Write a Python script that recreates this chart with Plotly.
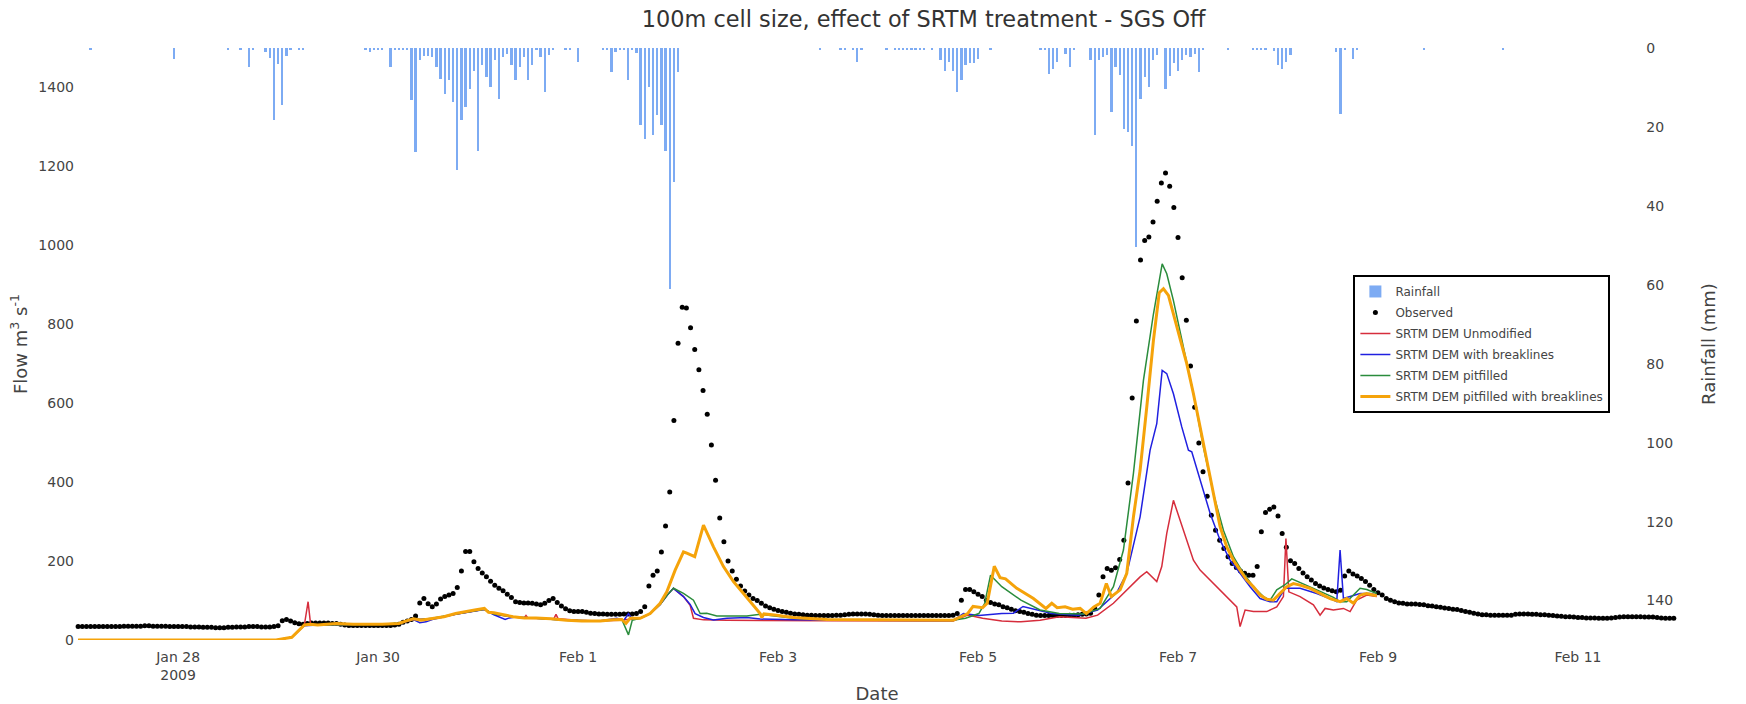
import pandas as pd
import plotly.graph_objects as go

START = pd.Timestamp("2009-01-27 00:00")

# Observed flow (m3/s), hourly from 2009-01-27 00:00, one row per day
observed_flow = [
    34, 34, 34, 34, 34, 34, 34, 34, 34, 34, 34, 35, 35, 35, 35, 35, 36, 36, 35, 35, 35, 35, 34, 34,
    34, 34, 34, 33, 33, 33, 32, 32, 32, 31, 31, 31, 32, 32, 33, 33, 33, 34, 34, 34, 33, 33, 33, 34,
    36, 49, 52, 48, 44, 41, 40, 42, 43, 43, 43, 43, 43, 42, 42, 40, 38, 37, 37, 37, 37, 37, 37, 37,
    37, 37, 37, 37, 38, 40, 45, 48, 52, 61, 94, 105, 92, 84, 91, 104, 110, 114, 118, 133, 175, 224, 224, 198,
    181, 170, 160, 149, 139, 131, 125, 116, 108, 97, 95, 94, 94, 93, 91, 89, 93, 100, 105, 95, 86, 79, 74, 72,
    72, 72, 70, 68, 67, 66, 66, 65, 65, 65, 65, 66, 66, 66, 67, 72, 84, 137, 164, 175, 223, 289, 375, 556,
    752, 843, 841, 791, 736, 685, 632, 572, 494, 405, 309, 249, 200, 175, 154, 137, 124, 114, 105, 100, 93, 86, 82, 78,
    75, 72, 70, 68, 66, 65, 64, 63, 63, 62, 62, 62, 62, 62, 63, 63, 64, 65, 66, 66, 66, 66, 65, 64,
    63, 62, 62, 62, 62, 62, 62, 62, 62, 62, 62, 62, 62, 62, 62, 62, 62, 62, 63, 67, 101, 128, 128, 122,
    116, 110, 101, 95, 91, 89, 84, 82, 78, 74, 72, 70, 67, 65, 63, 62, 62, 62, 62, 62, 62, 62, 63, 63,
    64, 65, 66, 68, 80, 114, 160, 181, 177, 183, 204, 253, 398, 613, 808, 963, 1012, 1021, 1059, 1112, 1158, 1183, 1150, 1096,
    1020, 918, 810, 694, 590, 499, 426, 364, 316, 278, 253, 232, 211, 194, 184, 175, 169, 164, 164, 186, 274, 323, 331, 337,
    314, 270, 235, 201, 194, 181, 170, 160, 152, 143, 137, 132, 128, 125, 122, 126, 162, 175, 167, 162, 156, 148, 139, 128,
    120, 114, 105, 101, 97, 94, 93, 91, 91, 91, 90, 89, 87, 86, 84, 83, 81, 80, 78, 77, 75, 72, 70, 68,
    66, 64, 64, 63, 63, 63, 63, 63, 63, 65, 66, 66, 66, 65, 65, 64, 64, 63, 62, 61, 60, 59, 59, 58,
    57, 57, 56, 56, 56, 55, 55, 55, 56, 57, 58, 59, 59, 59, 59, 59, 58, 58, 58, 57, 56, 55, 55, 55,
]

# Hourly rainfall (mm): hours after start with non-zero rain, and the depth
rain_hour = [
    3, 23, 36, 39, 41, 42, 45, 46, 47, 48,
    49, 50, 51, 53, 54, 69, 70, 71, 72, 73,
    75, 76, 77, 78, 79, 80, 81, 82, 83, 84,
    85, 86, 87, 88, 89, 90, 91, 92, 93, 94,
    95, 96, 97, 98, 99, 100, 101, 102, 103, 104,
    105, 106, 107, 108, 109, 110, 111, 112, 113, 114,
    117, 118, 120, 126, 127, 128, 129, 130, 131, 132,
    133, 134, 135, 136, 137, 138, 139, 140, 141, 142,
    143, 144, 178, 183, 184, 186, 187, 188, 194, 196,
    197, 198, 199, 200, 201, 202, 203, 205, 207, 208,
    209, 210, 211, 212, 213, 214, 215, 216, 219, 231,
    232, 233, 234, 235, 237, 238, 239, 243, 244, 245,
    246, 247, 248, 249, 250, 251, 252, 253, 254, 255,
    256, 257, 258, 259, 261, 262, 263, 264, 265, 266,
    267, 268, 269, 270, 276, 282, 283, 284, 285, 287,
    288, 289, 290, 291, 302, 303, 304, 306, 307, 323,
    342,
]
rain_mm = [
    0.3, 2.7, 0.3, 0.3, 4.8, 0.4, 1.0, 2.5, 18.3, 4.0,
    14.5, 2.0, 0.5, 0.3, 0.3, 0.5, 1.0, 0.4, 0.3, 0.5,
    4.8, 0.4, 0.5, 0.3, 0.5, 13.3, 26.4, 3.1, 1.9, 1.9,
    2.3, 4.8, 7.8, 11.6, 8.2, 13.7, 31.0, 18.3, 15.0, 10.3,
    5.7, 26.0, 4.4, 7.3, 10.0, 3.1, 12.8, 2.3, 1.5, 4.4,
    8.2, 4.8, 2.3, 8.2, 4.4, 0.5, 2.3, 11.1, 1.8, 0.3,
    0.3, 0.3, 3.5, 0.3, 0.3, 6.1, 1.0, 0.3, 0.4, 8.2,
    0.5, 1.2, 19.6, 23.0, 9.9, 22.1, 17.1, 19.6, 26.0, 61.0,
    34.0, 6.1, 0.3, 0.3, 0.3, 0.5, 3.5, 0.3, 0.3, 0.4,
    0.3, 0.5, 0.3, 0.3, 0.4, 0.5, 0.3, 0.4, 3.1, 5.7,
    3.5, 5.7, 11.1, 8.2, 4.4, 3.9, 3.9, 2.7, 0.3, 0.3,
    0.4, 6.5, 5.2, 3.5, 1.5, 4.8, 0.3, 3.1, 22.1, 3.1,
    2.3, 1.8, 16.2, 4.8, 6.9, 20.4, 21.3, 24.9, 50.4, 12.8,
    7.3, 9.9, 3.1, 1.8, 10.3, 7.0, 3.9, 5.7, 3.1, 1.8,
    2.3, 1.5, 6.1, 0.3, 0.3, 0.3, 0.4, 0.3, 0.4, 0.8,
    4.4, 5.2, 3.5, 1.8, 1.0, 16.6, 0.3, 2.7, 0.3, 0.3,
    0.3,
]

# Modelled flow (m3/s): hours after start and simulated discharge
unmod_hour = [
    0, 47.5, 51.3, 54.3, 55.2, 55.8, 57.5, 66, 73, 77,
    80.5, 85, 90.6, 95.2, 97.5, 99.8, 104.4, 107, 107.5, 108,
    114.2, 114.7, 115.2, 120, 125, 130, 134.9, 137.3, 139.7, 141.5,
    142.9, 145.3, 146.9, 147.7, 150.1, 155.7, 180, 210, 213.5, 217.1,
    221.7, 226.3, 230.9, 235.5, 241.9, 244.7, 248.5, 251.7, 254.9, 256.5,
    258.9, 260.1, 261.3, 262.9, 264.5, 266.1, 267.7, 269.3, 271.7, 274.1,
    276.5, 278.1, 278.9, 280.1, 282.1, 285.3, 287.7, 289.3, 289.9, 290.6,
    293.3, 296.5, 298.1, 299.3, 301.3, 303.7, 305.3, 306.9, 309.3, 311.7,
]
unmod_flow = [
    0, 0, 7, 38, 97, 40, 38, 39, 40, 42,
    52, 54, 65, 74, 78, 65, 58, 55, 62, 55,
    54, 65, 54, 50, 48, 50, 55, 67, 90, 115,
    131, 110, 88, 55, 51, 50, 49, 48, 63, 55,
    48, 46, 50, 59, 55, 63, 93, 127, 160, 173,
    148, 186, 270, 354, 304, 253, 202, 177, 152, 127,
    101, 84, 34, 76, 72, 72, 84, 110, 257, 122,
    110, 89, 63, 80, 76, 80, 72, 101, 114, 110,
]

brk_hour = [
    0, 47.5, 51.3, 54.3, 57.5, 66, 73, 77, 80.5, 82,
    83.5, 85, 90.6, 95.2, 97.5, 99.8, 102.5, 103.5, 105, 110,
    117, 125, 129.3, 131, 132.1, 133, 134.9, 137.3, 139.7, 141.5,
    142.9, 145.3, 146.9, 148.1, 150.1, 152.5, 155.7, 160.5, 163.7, 171.7,
    195.7, 210, 212.5, 215, 216.2, 221.7, 224.5, 226.8, 230, 233.7,
    240.1, 244.7, 249.3, 251.7, 254.9, 257.3, 258.9, 260.2, 261.3, 262.9,
    264.9, 266.5, 267.3, 269.3, 271.7, 274.1, 276.5, 278.9, 281.3, 283.7,
    286.1, 287.7, 288.5, 289.7, 293.3, 297.3, 301.3, 302.1, 302.9, 303.7,
    305.3, 307.7, 310.1, 311.7,
]
brk_flow = [
    0, 0, 7, 36, 38, 39, 40, 42, 52, 44,
    46, 52, 65, 74, 77, 64, 52, 56, 58, 55,
    50, 48, 55, 50, 67, 52, 55, 67, 90, 115,
    131, 110, 90, 67, 57, 51, 55, 57, 53, 51,
    50, 49, 67, 63, 62, 67, 68, 85, 76, 67,
    63, 76, 120, 169, 312, 481, 548, 683, 675, 624,
    540, 481, 477, 405, 321, 253, 202, 169, 135, 105,
    97, 97, 110, 131, 131, 118, 101, 97, 228, 105,
    110, 118, 118, 114,
]

pit_hour = [
    0, 47.5, 51.3, 54.3, 57.5, 66, 73, 77, 80.5, 82.3,
    85, 90.6, 95.2, 97.5, 99.8, 104.4, 110, 117, 125, 130.5,
    132.1, 133, 134.9, 137.3, 139.7, 141.5, 142.9, 145.3, 147.7, 149.3,
    150.9, 153.3, 160.5, 163.7, 167.7, 172, 180, 196, 210, 213,
    216.2, 217.6, 219, 221.7, 226.3, 230.9, 235.5, 241.3, 245.3, 248.5,
    250.9, 253.3, 255.7, 258.1, 260.2, 261.3, 262.9, 265.3, 267.7, 270.1,
    272.5, 274.9, 277.3, 279.7, 282.1, 284.5, 286.1, 287.7, 289.7, 291.3,
    293.3, 297.3, 301.3, 302.9, 304.5, 306.1, 307.7, 309.3, 311.7,
]
pit_flow = [
    0, 0, 7, 38, 38, 39, 40, 43, 54, 52,
    55, 66, 74, 78, 66, 58, 55, 50, 48, 52,
    13, 50, 55, 67, 90, 115, 131, 118, 101, 67,
    68, 61, 61, 65, 60, 55, 52, 50, 50, 55,
    67, 93, 164, 135, 101, 76, 67, 66, 80, 135,
    228, 422, 658, 826, 953, 928, 860, 742, 624, 489,
    371, 278, 211, 169, 135, 110, 101, 127, 140, 155,
    145, 127, 108, 97, 97, 114, 131, 128, 118,
]

pitbrk_hour = [
    0, 47.5, 51.3, 54.3, 55.7, 57.5, 62, 66, 73, 77,
    78.6, 80.5, 82.3, 85, 87.8, 90.6, 92.4, 95.2, 97.5, 98.5,
    99.8, 102.5, 104.4, 107.1, 109.9, 113.5, 117.2, 120.9, 125.3, 128.5,
    130.5, 131.5, 132.5, 134.9, 137.3, 139.7, 141.3, 143.3, 145.3, 146.1,
    148, 150.1, 152.5, 154.9, 157.3, 159.7, 162.1, 163.7, 164.1, 164.6,
    167.7, 171.7, 179.7, 195.7, 210, 213.5, 214.8, 217.1, 218.2, 219.9,
    221.3, 222.6, 225.3, 229.3, 232.3, 233.7, 235, 236.9, 238.7, 240.5,
    242, 243.8, 245.3, 246.8, 248, 250.1, 251.7, 253.3, 254.9, 256.5,
    258.1, 259.5, 260.5, 261.7, 262.9, 264.5, 266.1, 267.7, 269.3, 270.9,
    272.5, 274.1, 275.7, 277.3, 278.9, 280.5, 282.1, 283.7, 285.3, 286.9,
    288.5, 290.1, 291.7, 293.3, 295.7, 298.1, 300.5, 302.9, 304.5, 306.1,
    307.7, 309.3, 311.7,
]
pitbrk_flow = [
    0, 0, 7, 38, 40, 38, 42, 40, 40, 42,
    48, 54, 50, 54, 59, 67, 71, 76, 80, 70,
    69, 63, 59, 56, 56, 54, 50, 48, 48, 51,
    52, 42, 55, 55, 67, 93, 122, 177, 223, 220,
    211, 291, 236, 186, 148, 118, 89, 67, 57, 66,
    63, 57, 52, 51, 50, 67, 85, 82, 93, 187,
    158, 155, 131, 105, 80, 93, 82, 84, 78, 80,
    67, 84, 93, 143, 110, 127, 169, 312, 430, 590,
    759, 880, 890, 873, 826, 767, 700, 624, 540, 455,
    379, 287, 236, 202, 177, 152, 135, 114, 103, 101,
    118, 135, 143, 139, 131, 118, 105, 97, 105, 93,
    114, 118, 112,
]

for hrs, vals in [(rain_hour, rain_mm), (unmod_hour, unmod_flow), (brk_hour, brk_flow),
                  (pit_hour, pit_flow), (pitbrk_hour, pitbrk_flow)]:
    assert len(hrs) == len(vals)


def to_time(hours):
    return [START + pd.Timedelta(hours=h) for h in hours]


FONT = "DejaVu Sans, Verdana, sans-serif"
HOUR_MS = 3600 * 1000

fig = go.Figure()

fig.add_trace(go.Bar(
    x=to_time(rain_hour), y=rain_mm, yaxis="y2", name="Rainfall", legendgroup="rain",
    width=0.55 * HOUR_MS, marker=dict(color="rgb(112,162,242)", line=dict(width=0)),
    opacity=0.9,
))

fig.add_trace(go.Scatter(
    x=to_time(range(len(observed_flow))), y=observed_flow, name="Observed",
    legendgroup="obs", mode="markers", marker=dict(color="black", size=5),
))

models = [
    ("SRTM DEM Unmodified", unmod_hour, unmod_flow, "#d62d3c", 1.5),
    ("SRTM DEM with breaklines", brk_hour, brk_flow, "#2020e0", 1.5),
    ("SRTM DEM pitfilled", pit_hour, pit_flow, "#2a8c3c", 1.5),
    ("SRTM DEM pitfilled with breaklines", pitbrk_hour, pitbrk_flow, "#f5a30a", 3),
]
for name, hrs, vals, color, lw in models:
    fig.add_trace(go.Scatter(
        x=to_time(hrs), y=vals, name=name, legendgroup=name, mode="lines",
        line=dict(color=color, width=lw),
    ))

fig.update_layout(
    width=1746, height=704,
    margin=dict(l=75, r=67, t=48, b=64),
    paper_bgcolor="white", plot_bgcolor="white",
    font=dict(family=FONT, size=14, color="#444"),
    title=dict(
        text="100m cell size, effect of SRTM treatment - SGS Off",
        x=0.529, xanchor="center", y=0.973, yanchor="middle",
        font=dict(size=22.4, color="#333"),
    ),
    xaxis=dict(
        type="date", range=["2009-01-26 23:15", "2009-02-12 00:15"],
        domain=[0, 1], automargin=False,
        tick0="2009-01-28", dtick=2 * 24 * HOUR_MS,
        showgrid=False, zeroline=False, showline=False,
        ticks="outside", ticklen=4, tickcolor="rgba(0,0,0,0)",
        title=dict(text="Date", font=dict(size=18), standoff=9),
    ),
    yaxis=dict(
        range=[0, 1500], dtick=200, showgrid=False, zeroline=False,
        showline=False, ticks="", automargin=False,
        title=dict(text="Flow m<sup>3</sup> s<sup>-1</sup>", font=dict(size=18), standoff=6),
    ),
    yaxis2=dict(
        overlaying="y", side="right", anchor="free", position=0.979,
        range=[150, 0], dtick=20, automargin=False,
        showgrid=False, zeroline=False, showline=False, ticks="",
        title=dict(text="Rainfall (mm)", font=dict(size=18), standoff=30),
    ),
    legend=dict(
        x=0.797, y=0.6166, xanchor="left", yanchor="top",
        bordercolor="black", borderwidth=2, bgcolor="white",
        font=dict(size=12), tracegroupgap=2,
    ),
    bargap=0,
    showlegend=True,
)

fig.write_html("out.html")
